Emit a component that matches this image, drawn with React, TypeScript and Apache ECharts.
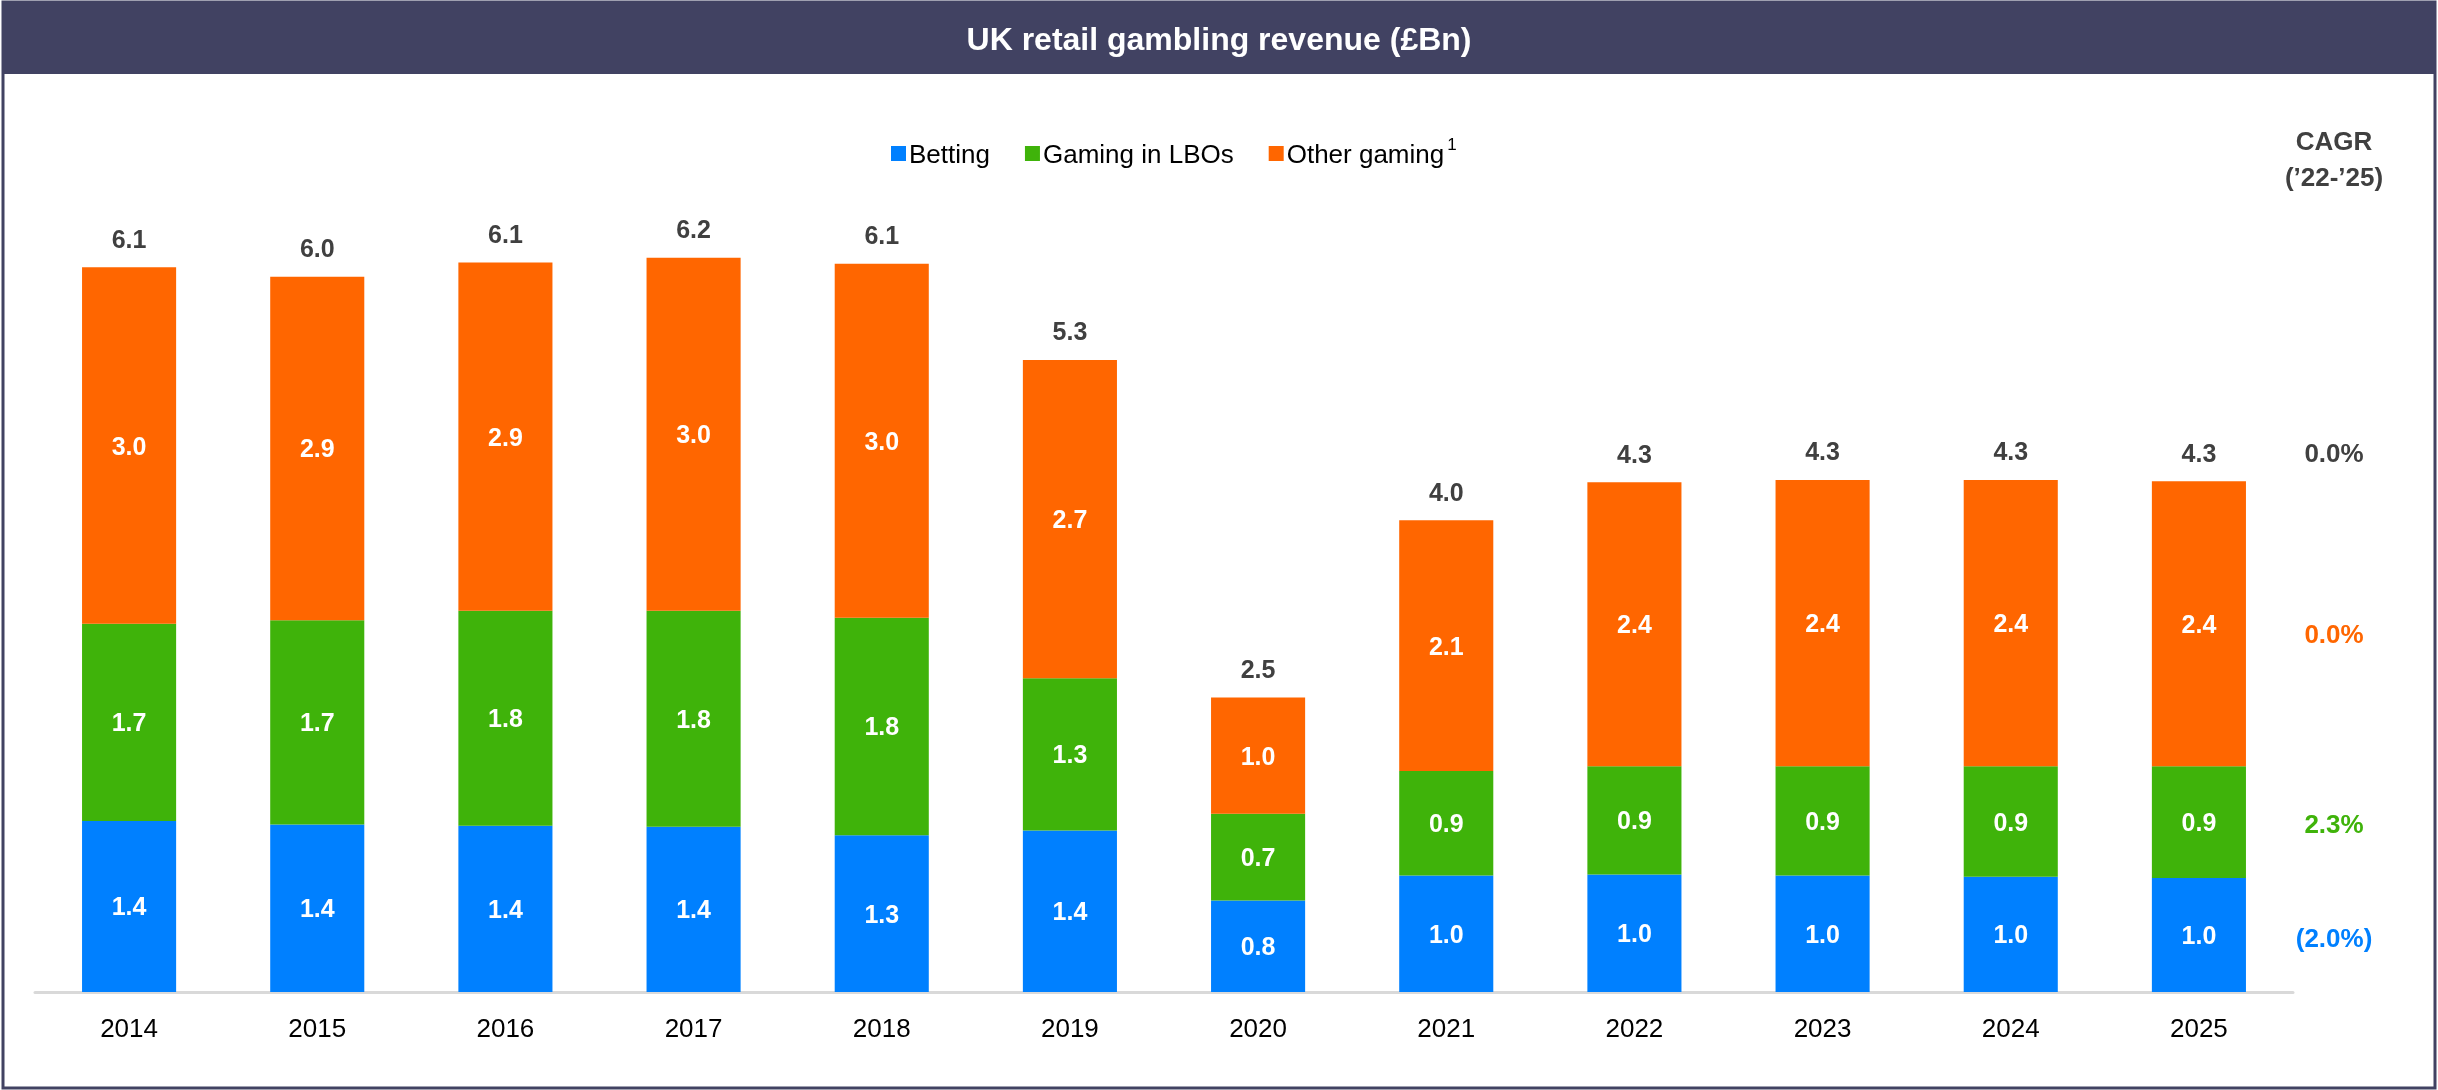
import React, { useEffect, useRef } from "react";
import * as echarts from "echarts";

const years = ["2014", "2015", "2016", "2017", "2018", "2019", "2020", "2021", "2022", "2023", "2024", "2025"];
const betting = [1.44, 1.41, 1.4, 1.39, 1.32, 1.36, 0.77, 0.98, 0.99, 0.98, 0.97, 0.96];
const gamingLBO = [1.66, 1.72, 1.81, 1.82, 1.83, 1.28, 0.73, 0.88, 0.91, 0.92, 0.93, 0.94];
const otherGaming = [3.0, 2.89, 2.93, 2.97, 2.98, 2.68, 0.98, 2.11, 2.39, 2.41, 2.41, 2.4];
const cagrLabels = ["0.0%", "0.0%", "2.3%", "(2.0%)"]; // total, other, LBO, betting

const BLUE = "#0080FF";
const GREEN = "#3FB30A";
const ORANGE = "#FF6600";
const DARK = "#404040";
const FRAME = "#414262";

export default function App() {
  const ref = useRef<HTMLDivElement>(null);
  useEffect(() => {
    if (!ref.current) return;
    const chart = echarts.init(ref.current, null, { renderer: "svg" });
    const totals = years.map((_, i) => betting[i] + gamingLBO[i] + otherGaming[i]);
    const inside = {
      show: true,
      position: "inside",
      color: "#fff",
      fontWeight: "bold",
      fontSize: 25,
      fontFamily: "Liberation Sans, Arial",
      formatter: (p: any) => Number(p.value).toFixed(1),
    };
    const option: any = {
      animation: false,
      textStyle: { fontFamily: "Liberation Sans, Arial" },
      grid: { left: 35, right: 145, top: 160.4, bottom: 98 },
      legend: {
        data: ["Betting", "Gaming in LBOs", "Other gaming"],
        left: 886,
        top: 131,
        itemWidth: 15,
        itemHeight: 15,
        itemGap: 35,
        icon: "rect",
        textStyle: {
          fontSize: 26,
          color: "#000",
          fontFamily: "Liberation Sans, Arial",
          padding: [0, 0, 0, -2],
          rich: {
            sup: { fontSize: 17, color: "#000", verticalAlign: "top", padding: [0, 0, 18, 3] },
          },
        },
        formatter: (n: string) => (n === "Other gaming" ? n + "{sup|1}" : n),
      },
      xAxis: {
        type: "category",
        data: years,
        axisLine: { lineStyle: { color: "#d9d9d9", width: 3 } },
        axisTick: { show: false },
        axisLabel: { fontSize: 26, color: "#000", margin: 23, fontFamily: "Liberation Sans, Arial" },
      },
      yAxis: { type: "value", min: 0, max: 7, show: false, splitLine: { show: false } },
      series: [
        { name: "Betting", type: "bar", stack: "s", data: betting, barWidth: "50%", itemStyle: { color: BLUE }, label: inside },
        { name: "Gaming in LBOs", type: "bar", stack: "s", data: gamingLBO, itemStyle: { color: GREEN }, label: inside },
        { name: "Other gaming", type: "bar", stack: "s", data: otherGaming, itemStyle: { color: ORANGE }, label: inside },
        {
          name: "Total",
          type: "bar",
          stack: "s",
          data: years.map(() => 0),
          itemStyle: { color: "transparent" },
          label: {
            show: true,
            position: "top",
            distance: 16,
            color: DARK,
            fontWeight: "bold",
            fontSize: 25,
            fontFamily: "Liberation Sans, Arial",
            formatter: (p: any) => totals[p.dataIndex].toFixed(1),
          },
        },
      ],
    };
    chart.setOption(option);

    const last = years.length - 1;
    const yOf = (v: number) => (chart.convertToPixel({ gridIndex: 0 }, [last, v]) as number[])[1];
    const b = betting[last];
    const g = gamingLBO[last];
    const o = otherGaming[last];
    const cx = 2334;
    const cagrPos = [
      yOf(b + g + o) - 28,
      yOf(b + g + o / 2) + 10,
      yOf(b + g / 2) + 2,
      yOf(b / 2) + 3,
    ];
    const cagrColors = [DARK, ORANGE, GREEN, BLUE];
    const txt = (text: string, x: number, y: number, color: string, size: number) => ({
      type: "text",
      x,
      y,
      style: {
        text,
        fill: color,
        font: `bold ${size}px "Liberation Sans", Arial`,
        textAlign: "center",
        textVerticalAlign: "middle",
      },
    });
    chart.setOption({
      graphic: [
        { type: "rect", shape: { x: 3, y: 2, width: 2432, height: 1086 }, style: { fill: "none", stroke: FRAME, lineWidth: 3 } },
        { type: "rect", shape: { x: 3, y: 2, width: 2432, height: 72 }, style: { fill: FRAME } },
        txt("UK retail gambling revenue (£Bn)", 1219, 39, "#fff", 32),
        txt("CAGR", cx, 141, DARK, 26),
        txt("(’22-’25)", cx, 177, DARK, 26),
        ...cagrLabels.map((l, i) => txt(l, cx, cagrPos[i], cagrColors[i], 26)),
      ],
    });
    return () => chart.dispose();
  }, []);
  return <div ref={ref} style={{ position: "fixed", left: 0, top: 0, width: 2438, height: 1090 }} />;
}
